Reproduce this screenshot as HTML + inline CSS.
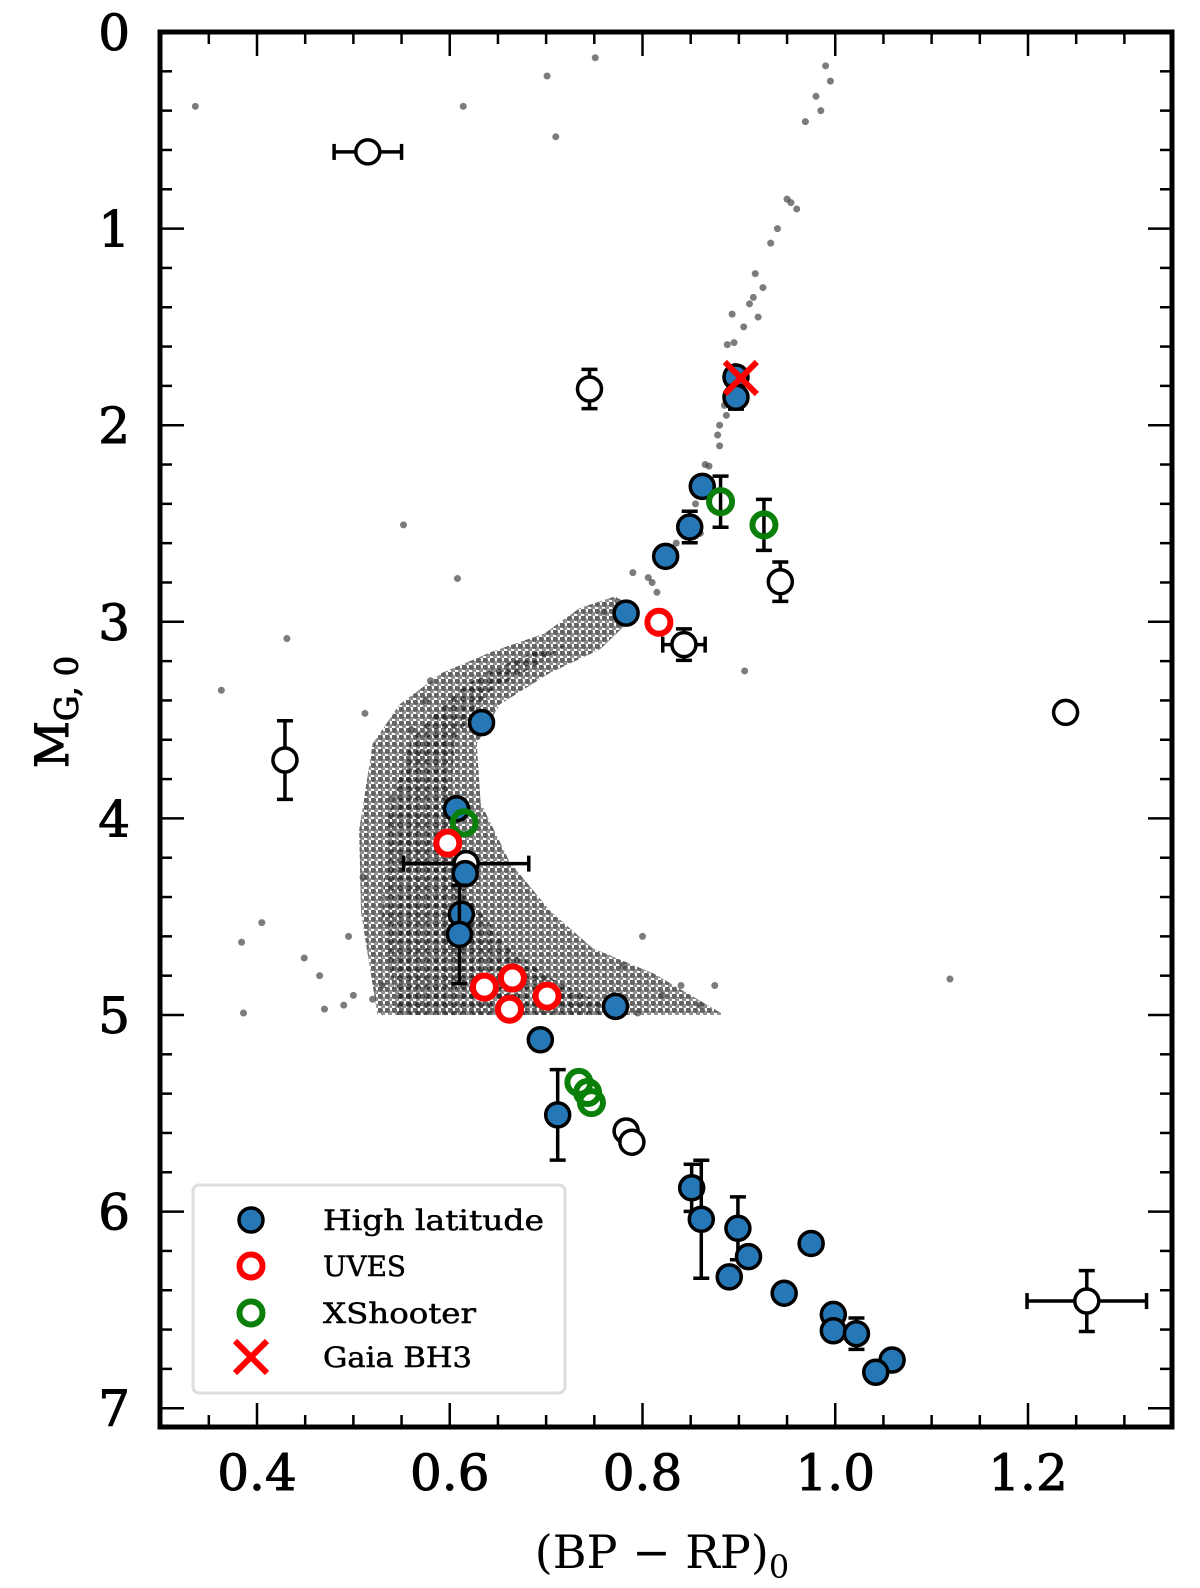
<!DOCTYPE html>
<html><head><meta charset="utf-8"><style>
html,body{margin:0;padding:0;background:#fff;}
svg{display:block;font-family:"DejaVu Serif","Liberation Serif",serif;}
</style></head><body>
<svg id="chart" width="1200" height="1588" viewBox="0 0 1200 1588" xmlns="http://www.w3.org/2000/svg">
<defs>
<pattern id="dots" width="7" height="7" patternUnits="userSpaceOnUse">
<circle cx="2" cy="2" r="3" fill="#222" fill-opacity="0.7"/>
<circle cx="5.5" cy="5.5" r="2.6" fill="#333" fill-opacity="0.55"/>
</pattern>
<pattern id="dots2" width="9" height="9" patternUnits="userSpaceOnUse">
<circle cx="4" cy="6" r="3" fill="#000" fill-opacity="0.55"/>
</pattern>
<clipPath id="plotclip"><rect x="160" y="32" width="1012" height="1395"/></clipPath>
</defs>
<g id="plot" clip-path="url(#plotclip)"></g>
<g id="axes"></g>
</svg>
<script>
// ---------- data ----------
const xDomain = [0.3, 1.35];
const yDomain = [0, 7.1];
const xMajorTicks = [0.4, 0.6, 0.8, 1.0, 1.2];
const xTickLabels = ["0.4", "0.6", "0.8", "1.0", "1.2"];
const yMajorTicks = [0, 1, 2, 3, 4, 5, 6, 7];
const yTickLabels = ["0", "1", "2", "3", "4", "5", "6", "7"];

const cloudX = [0.525,0.508,0.506,0.520,0.548,0.592,0.645,0.698,0.735,0.772,0.792,0.756,0.704,0.652,0.628,0.632,0.662,0.704,0.748,0.812,0.885];
const cloudY = [5.0,4.48,4.06,3.62,3.42,3.26,3.15,3.06,2.93,2.87,2.97,3.14,3.26,3.42,3.62,3.92,4.22,4.47,4.66,4.79,5.0];
const coreX = [0.545,0.530,0.535,0.560,0.600,0.640,0.690,0.720,0.690,0.640,0.605,0.600,0.620,0.660,0.700,0.740,0.790];
const coreY = [5.0,4.5,4.0,3.6,3.38,3.25,3.15,3.12,3.22,3.36,3.6,4.0,4.4,4.65,4.8,4.9,5.0];
const fieldX = [0.806,0.827,0.848,0.869,0.880,0.885,0.888,0.893,0.911,0.917,0.933,0.954,0.969,0.980,0.990,0.336,0.614,0.701,0.751,0.710,0.552,0.608,0.431,0.363,0.512,1.119,0.906,0.386,0.384,0.405,0.449,0.47,0.49,0.50,0.465,0.795,0.82,0.86,0.84,0.80,0.875,0.79,0.872,0.86,0.88,0.90,0.895,0.92,0.925,0.95,0.815,0.835,0.855,0.865,0.878,0.887,0.896,0.905,0.915,0.94,0.96,0.985,0.995,0.76,0.775,0.81,0.83,0.85,0.77,0.78,0.52,0.53,0.495,0.51,0.54,0.56,0.575,0.58];
const fieldY = [2.775,2.647,2.466,2.208,2.105,1.899,1.590,1.435,1.383,1.229,1.074,0.868,0.456,0.327,0.172,0.378,0.378,0.224,0.131,0.533,2.507,2.78,3.085,3.348,3.466,4.817,3.25,4.99,4.63,4.53,4.71,4.97,4.95,4.9,4.8,4.99,4.9,4.95,4.85,4.6,4.85,2.75,2.3,2.55,2.0,1.75,1.58,1.45,1.3,0.85,2.85,2.6,2.4,2.2,2.05,1.95,1.7,1.5,1.35,1.0,0.9,0.4,0.25,2.95,2.9,2.8,2.7,2.5,4.9,4.75,4.92,4.85,4.6,4.3,3.9,3.55,3.4,3.3];

const hiX = [0.897,0.897,0.862,0.849,0.824,0.783,0.633,0.607,0.616,0.612,0.610,0.772,0.694,0.712,0.851,0.861,0.899,0.910,0.890,0.975,0.947,0.998,0.998,1.022,1.059,1.042];
const hiY = [1.755,1.858,2.311,2.518,2.667,2.956,3.513,3.951,4.281,4.487,4.590,4.956,5.126,5.508,5.879,6.039,6.085,6.229,6.332,6.162,6.415,6.523,6.606,6.621,6.755,6.817];
const hiYErr = [0,0.06,0,0.08,0.05,0,0,0,0,0,0.25,0,0.05,0.23,0.12,0.3,0.16,0,0,0,0,0,0,0.08,0,0];

const uvesX = [0.817,0.598,0.636,0.665,0.662,0.701];
const uvesY = [3.002,4.126,4.858,4.812,4.971,4.904];

const xshX = [0.881,0.926,0.615,0.734,0.743,0.747];
const xshY = [2.389,2.507,4.023,5.343,5.394,5.446];
const xshYErr = [0.13,0.13,0,0,0,0];

const openX = [0.515,0.745,0.943,0.843,1.239,0.429,0.617,0.783,0.789,1.261];
const openY = [0.61,1.816,2.796,3.116,3.461,3.703,4.23,5.59,5.647,6.455];
const openXErr = [0.035,0,0,0.022,0.008,0,0.065,0,0,0.062];
const openYErr = [0,0.1,0.1,0.08,0,0.2,0,0,0,0.155];

const bh3X = [0.902];
const bh3Y = [1.76];

// ---------- scales ----------
const L=160, R=1172, T=32, B=1427;
function sx(v){ return 257 + (v-0.4)*963.75; }
function sy(v){ return T + v*196.6; }

const NS="http://www.w3.org/2000/svg";
const plot=document.getElementById('plot');
const axes=document.getElementById('axes');
function mk(tag, attrs, parent){
  const e=document.createElementNS(NS,tag);
  for(const k in attrs) e.setAttribute(k, attrs[k]);
  parent.appendChild(e); return e;
}

const cloudPts = cloudX.map((x,i)=>sx(x)+','+sy(cloudY[i])).join(' ');
const cloud = mk('polygon',{points:cloudPts, fill:'url(#dots)'}, plot);


const corePts = coreX.map((x,i)=>sx(x)+','+sy(coreY[i])).join(' ');
const core = mk('polygon',{points:corePts, fill:'url(#dots2)'}, plot);



for(let i=0;i<fieldX.length;i++){
  const c=mk('circle',{cx:sx(fieldX[i]),cy:sy(fieldY[i]),r:3.5,fill:'#444','fill-opacity':0.7},plot);
  
  
}

function errbars(x,y,xe,ye){
  const g=mk('g',{stroke:'#000','stroke-width':3.5,fill:'none'},plot);
  
  
  if(xe>0){
    mk('line',{x1:sx(x-xe),x2:sx(x+xe),y1:sy(y),y2:sy(y)},g);
    mk('line',{x1:sx(x-xe),x2:sx(x-xe),y1:sy(y)-8,y2:sy(y)+8},g);
    mk('line',{x1:sx(x+xe),x2:sx(x+xe),y1:sy(y)-8,y2:sy(y)+8},g);
  }
  if(ye>0){
    mk('line',{x1:sx(x),x2:sx(x),y1:sy(y-ye),y2:sy(y+ye)},g);
    mk('line',{x1:sx(x)-8,x2:sx(x)+8,y1:sy(y-ye),y2:sy(y-ye)},g);
    mk('line',{x1:sx(x)-8,x2:sx(x)+8,y1:sy(y+ye),y2:sy(y+ye)},g);
  }
}

for(let i=0;i<openX.length;i++){
  errbars(openX[i],openY[i],openXErr[i],openYErr[i]);
  const c=mk('circle',{cx:sx(openX[i]),cy:sy(openY[i]),r:12,fill:'#fff',stroke:'#000','stroke-width':3.5},plot);
  
  
}
for(let i=0;i<hiX.length;i++){
  errbars(hiX[i],hiY[i],0,hiYErr[i]);
  const c=mk('circle',{cx:sx(hiX[i]),cy:sy(hiY[i]),r:12,fill:'#2677b5',stroke:'#000','stroke-width':3.5},plot);
  
  
}
for(let i=0;i<xshX.length;i++){
  errbars(xshX[i],xshY[i],0,xshYErr[i]);
  const c=mk('circle',{cx:sx(xshX[i]),cy:sy(xshY[i]),r:11.5,fill:'none',stroke:'#0a800a','stroke-width':6},plot);
  
  
}
for(let i=0;i<uvesX.length;i++){
  const c=mk('circle',{cx:sx(uvesX[i]),cy:sy(uvesY[i]),r:11.5,fill:'#fff',stroke:'#ff0000','stroke-width':6},plot);
  
  
}
for(let i=0;i<bh3X.length;i++){
  const x=sx(bh3X[i]), y=sy(bh3Y[i]);
  const g=mk('g',{stroke:'#ff0000','stroke-width':6},plot);
  
  
  mk('line',{x1:x-16,y1:y-16,x2:x+16,y2:y+16},g);
  mk('line',{x1:x-16,y1:y+16,x2:x+16,y2:y-16},g);
}

// ---------- axes ----------
const frame=mk('rect',{x:L,y:T,width:R-L,height:B-T,fill:'none',stroke:'#000','stroke-width':5},axes);



for(let k=7;k<=26;k++){
  const v=k*0.05, x=sx(v);
  if(x<L+2||x>R-2) continue;
  const major = (k%4===0);
  const len = major?24:12;
  mk('line',{x1:x,x2:x,y1:B,y2:B-len,stroke:'#000','stroke-width':2.5},axes);
  mk('line',{x1:x,x2:x,y1:T,y2:T+len,stroke:'#000','stroke-width':2.5},axes);
}
for(let k=1;k<=35;k++){
  const v=k*0.2, y=sy(v);
  const major = (k%5===0);
  const len = major?24:12;
  mk('line',{x1:L,x2:L+len,y1:y,y2:y,stroke:'#000','stroke-width':2.5},axes);
  mk('line',{x1:R,x2:R-len,y1:y,y2:y,stroke:'#000','stroke-width':2.5},axes);
}
xMajorTicks.forEach((v,i)=>{
  const t=mk('text',{x:sx(v),y:1490,'text-anchor':'middle','font-size':50,fill:'#000',stroke:'#000','stroke-width':1},axes);
  t.textContent=xTickLabels[i];
  
  
});
yMajorTicks.forEach((v,i)=>{
  const t=mk('text',{x:130,y:sy(v)+18,'text-anchor':'end','font-size':50,fill:'#000',stroke:'#000','stroke-width':1},axes);
  t.textContent=yTickLabels[i];
  
  
});

const xt=mk('text',{x:662,y:1568,'text-anchor':'middle','font-size':46,fill:'#000'},axes);


xt.innerHTML='(BP − RP)<tspan font-size="32" dy="10">0</tspan>';
const yt=mk('text',{x:0,y:0,'text-anchor':'middle','font-size':46,fill:'#000',stroke:'#000','stroke-width':1,transform:'translate(68,712) rotate(-90)'},axes);


yt.innerHTML='M<tspan font-size="32" dy="10">G, 0</tspan>';

const lg=mk('g',{},axes);


mk('rect',{x:193,y:1185,width:372,height:208,rx:6,fill:'#fff',stroke:'#ddd','stroke-width':3},lg);
const legY=[1220,1266,1313,1357];
const legLabels=["High latitude","UVES","XShooter","Gaia BH3"];
const legW=[221,83,153,149];
mk('circle',{cx:251,cy:legY[0],r:12,fill:'#2677b5',stroke:'#000','stroke-width':3.5},lg);
mk('circle',{cx:251,cy:legY[1],r:11.5,fill:'#fff',stroke:'#ff0000','stroke-width':6},lg);
mk('circle',{cx:251,cy:legY[2],r:11.5,fill:'#fff',stroke:'#0a800a','stroke-width':6},lg);
mk('line',{x1:235,y1:legY[3]-16,x2:267,y2:legY[3]+16,stroke:'#ff0000','stroke-width':6},lg);
mk('line',{x1:235,y1:legY[3]+16,x2:267,y2:legY[3]-16,stroke:'#ff0000','stroke-width':6},lg);
legLabels.forEach((s,i)=>{
  const t=mk('text',{x:323,y:legY[i]+10,'font-size':28,textLength:legW[i],lengthAdjust:'spacingAndGlyphs',fill:'#000',stroke:'#000','stroke-width':0.5},lg);
  t.textContent=s;
  
  
});
</script>
</body></html>
